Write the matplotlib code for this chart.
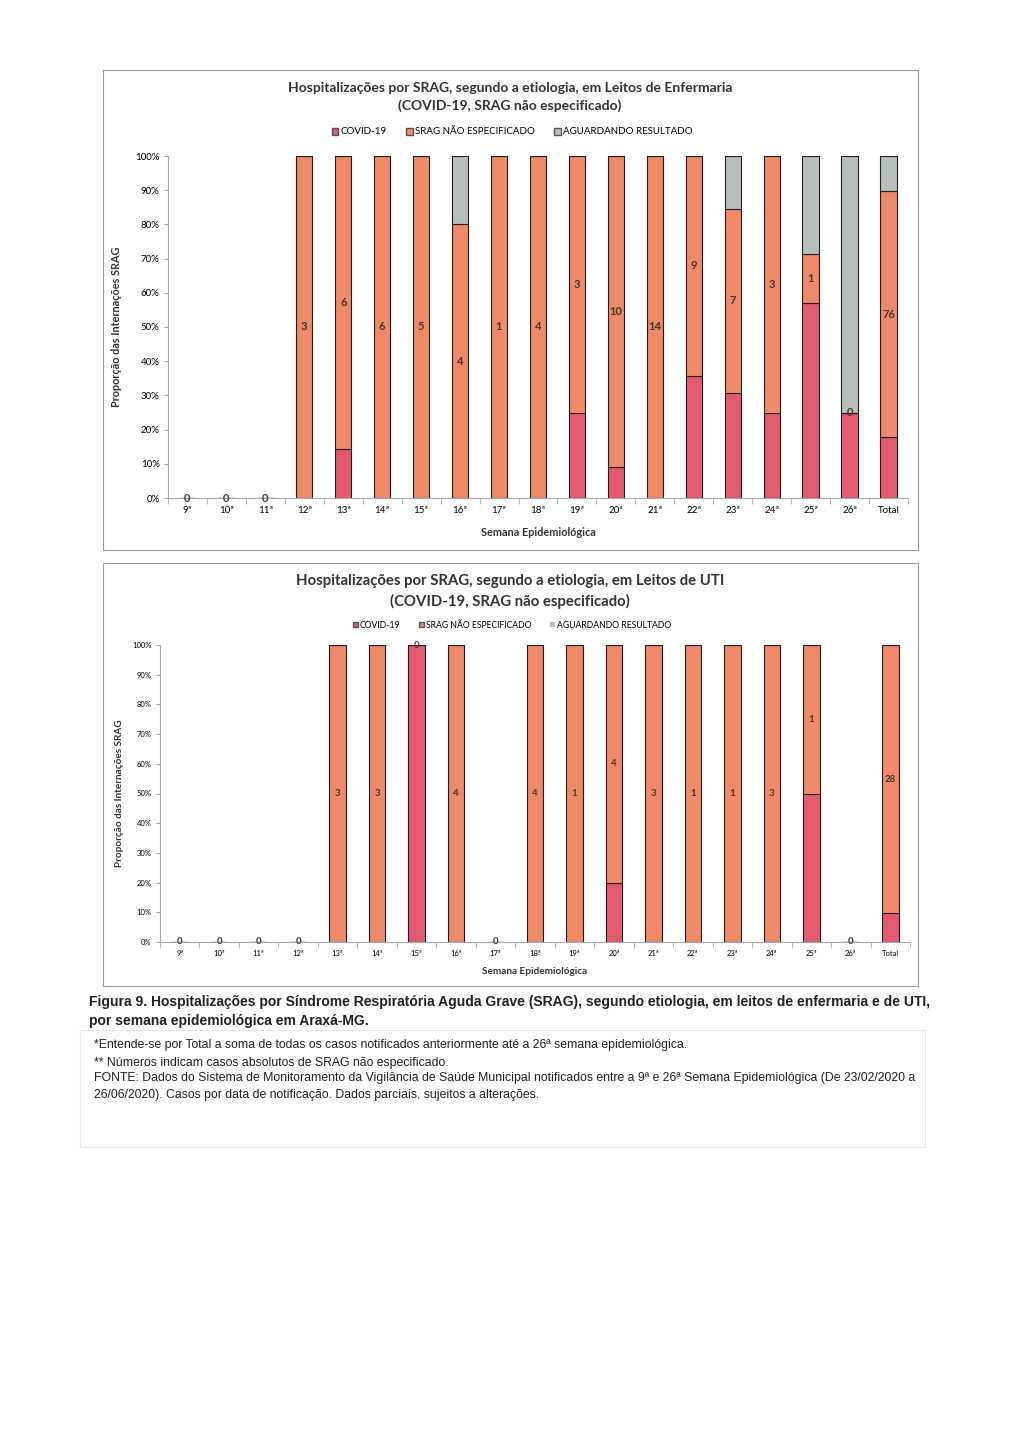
import matplotlib
matplotlib.use("Agg")
import matplotlib.pyplot as plt
import numpy as np
from matplotlib.patches import Rectangle, Patch

weeks = ["9ª", "10ª", "11ª", "12ª", "13ª", "14ª", "15ª", "16ª", "17ª", "18ª",
         "19ª", "20ª", "21ª", "22ª", "23ª", "24ª", "25ª", "26ª", "Total"]

# Leitos de enfermaria (counts)
enf_covid = [0, 0, 0, 0, 1, 0, 0, 0, 0, 0, 1, 1, 0, 5, 4, 1, 4, 1, 19]
enf_srag = [0, 0, 0, 3, 6, 6, 5, 4, 1, 4, 3, 10, 14, 9, 7, 3, 1, 0, 76]
enf_aguard = [0, 0, 0, 0, 0, 0, 0, 1, 0, 0, 0, 0, 0, 0, 2, 0, 2, 3, 11]

# Leitos de UTI (counts)
uti_covid = [0, 0, 0, 0, 0, 0, 1, 0, 0, 0, 0, 1, 0, 0, 0, 0, 1, 0, 3]
uti_srag = [0, 0, 0, 0, 3, 3, 0, 4, 0, 4, 1, 4, 3, 1, 1, 3, 1, 0, 28]
uti_aguard = [0, 0, 0, 0, 0, 0, 0, 0, 0, 0, 0, 0, 0, 0, 0, 0, 0, 0, 0]

C_COVID = "#e25a6e"
C_SRAG = "#ee8a68"
C_AGUARD = "#b7bfbb"
SPINE = "#a8a8a8"
CHART_FONT = ["Lato", "DejaVu Sans"]
W, H = 1024, 1447


def fx(px):
    return px / W


def fy(py):
    return 1 - py / H


def draw_chart(fig, box, rect, covid, srag, aguard, sizes):
    tick_fs, lab_fs, num_fs = sizes
    x0, y0, x1, y1 = box
    fig.patches.append(Rectangle((fx(x0), fy(y1)), fx(x1 - x0), (y1 - y0) / H,
                                 transform=fig.transFigure, fill=False,
                                 edgecolor="#9a9a9a", linewidth=0.8))
    ax = fig.add_axes(rect)
    covid = np.array(covid, float)
    srag = np.array(srag, float)
    aguard = np.array(aguard, float)
    total = covid + srag + aguard
    safe = np.where(total > 0, total, 1)
    pc, ps, pa = covid / safe, srag / safe, aguard / safe
    x = np.arange(len(weeks))
    kw = dict(width=0.42, edgecolor="#2a1a18", linewidth=0.8)
    ax.bar(x, pc, color=C_COVID, **kw)
    ax.bar(x, ps, bottom=pc, color=C_SRAG, **kw)
    ax.bar(x, pa, bottom=pc + ps, color=C_AGUARD, **kw)
    for i in range(len(weeks)):
        ypos = 0 if total[i] == 0 else pc[i] + ps[i] / 2
        ax.text(x[i], ypos, f"{int(srag[i])}", ha="center", va="center",
                fontsize=num_fs, color="#4a3530", fontweight="bold",
                family=CHART_FONT)
    ax.set_xlim(-0.5, len(weeks) - 0.5)
    ax.set_ylim(0, 1)
    ax.set_yticks(np.arange(0, 1.01, 0.1))
    ax.set_yticklabels([f"{v}%" for v in range(0, 101, 10)],
                       fontsize=tick_fs, family=CHART_FONT)
    ax.set_xticks(x)
    ax.set_xticklabels(weeks, fontsize=tick_fs, family=CHART_FONT)
    ax.set_xticks(np.arange(-0.5, len(weeks)), minor=True)
    ax.tick_params(axis="x", which="major", length=0, pad=6)
    ax.tick_params(axis="x", which="minor", length=4, color=SPINE)
    ax.tick_params(axis="y", length=3, color=SPINE, pad=3)
    for s in ["top", "right"]:
        ax.spines[s].set_visible(False)
    for s in ["left", "bottom"]:
        ax.spines[s].set_color(SPINE)
        ax.spines[s].set_linewidth(0.8)
    ax.set_ylabel("Proporção das Internações SRAG", fontsize=lab_fs,
                  fontweight="bold", family=CHART_FONT, color="#333333")
    ax.set_xlabel("Semana Epidemiológica", fontsize=lab_fs,
                  fontweight="bold", family=CHART_FONT, color="#333333")
    return ax


fig = plt.figure(figsize=(W / 100, H / 100), dpi=100)
fig.patch.set_facecolor("white")

# --- top chart: enfermaria
ax1 = draw_chart(fig, (103, 70, 918, 550),
                 [fx(168), fy(498), fx(740), 342 / H],
                 enf_covid, enf_srag, enf_aguard, (7, 7.8, 8))
ax1.yaxis.set_label_coords(-0.062, 0.5)
ax1.xaxis.set_label_coords(0.5, -0.085)
fig.text(fx(510), fy(88), "Hospitalizações por SRAG, segundo a etiologia, em Leitos de Enfermaria",
         ha="center", va="center", fontsize=10, fontweight="bold",
         family=CHART_FONT, color="#333333")
fig.text(fx(510), fy(106), "(COVID-19, SRAG não especificado)",
         ha="center", va="center", fontsize=10, fontweight="bold",
         family=CHART_FONT, color="#333333")

handles = [Patch(facecolor=C_COVID, edgecolor="#555555", label="COVID-19"),
           Patch(facecolor=C_SRAG, edgecolor="#555555", label="SRAG NÃO ESPECIFICADO"),
           Patch(facecolor=C_AGUARD, edgecolor="#555555", label="AGUARDANDO RESULTADO")]
fig.legend(handles=handles, loc="center", bbox_to_anchor=(fx(512), fy(132)),
           ncol=3, frameon=False, handlelength=0.7, handleheight=0.7,
           handletextpad=0.2, columnspacing=2.0,
           prop={"family": CHART_FONT, "size": 7})

# --- bottom chart: UTI
ax2 = draw_chart(fig, (103, 563, 918, 986),
                 [fx(160), fy(942), fx(750), 297 / H],
                 uti_covid, uti_srag, uti_aguard, (5.5, 7.2, 7))
ax2.yaxis.set_label_coords(-0.048, 0.5)
ax2.xaxis.set_label_coords(0.5, -0.085)
fig.text(fx(510), fy(581), "Hospitalizações por SRAG, segundo a etiologia, em Leitos de UTI",
         ha="center", va="center", fontsize=10.7, fontweight="bold",
         family=CHART_FONT, color="#333333")
fig.text(fx(510), fy(601), "(COVID-19, SRAG não especificado)",
         ha="center", va="center", fontsize=10.7, fontweight="bold",
         family=CHART_FONT, color="#333333")
handles2 = [Patch(facecolor=C_COVID, edgecolor="#555555", label="COVID-19"),
            Patch(facecolor=C_SRAG, edgecolor="#555555", label="SRAG NÃO ESPECIFICADO"),
            Patch(facecolor=C_AGUARD, edgecolor="none", label="AGUARDANDO RESULTADO")]
fig.legend(handles=handles2, loc="center", bbox_to_anchor=(fx(512), fy(625)),
           ncol=3, frameon=False, handlelength=0.6, handleheight=0.6,
           handletextpad=0.2, columnspacing=2.2,
           prop={"family": CHART_FONT, "size": 6.2})

# --- caption and notes
CAP_FONT = ["Liberation Sans Narrow", "Liberation Sans", "DejaVu Sans"]
fig.text(fx(89), fy(1002),
         "Figura 9. Hospitalizações por Síndrome Respiratória Aguda Grave (SRAG), segundo etiologia, em leitos de enfermaria e de UTI,",
         ha="left", va="center", fontsize=10, fontweight="bold",
         family=CAP_FONT, color="#222222")
fig.text(fx(89), fy(1021), "por semana epidemiológica em Araxá-MG.",
         ha="left", va="center", fontsize=10, fontweight="bold",
         family=CAP_FONT, color="#222222")
fig.patches.append(Rectangle((fx(80), fy(1147)), fx(845), 117 / H,
                             transform=fig.transFigure, fill=False,
                             edgecolor="#e6e6e6", linewidth=0.8))
notes = [
    (1045, "*Entende-se por Total a soma de todas os casos notificados anteriormente até a 26ª semana epidemiológica."),
    (1063, "** Números indicam casos absolutos de SRAG não especificado."),
    (1078, "FONTE: Dados do Sistema de Monitoramento da Vigilância de Saúde Municipal notificados entre a 9ª e 26ª Semana Epidemiológica (De 23/02/2020 a"),
    (1095, "26/06/2020). Casos por data de notificação. Dados parciais, sujeitos a alterações."),
]
for ypx, txt in notes:
    fig.text(fx(94), fy(ypx), txt, ha="left", va="center", fontsize=8.8,
             family=CAP_FONT, color="#222222")

fig.savefig("out.png", dpi=100)
